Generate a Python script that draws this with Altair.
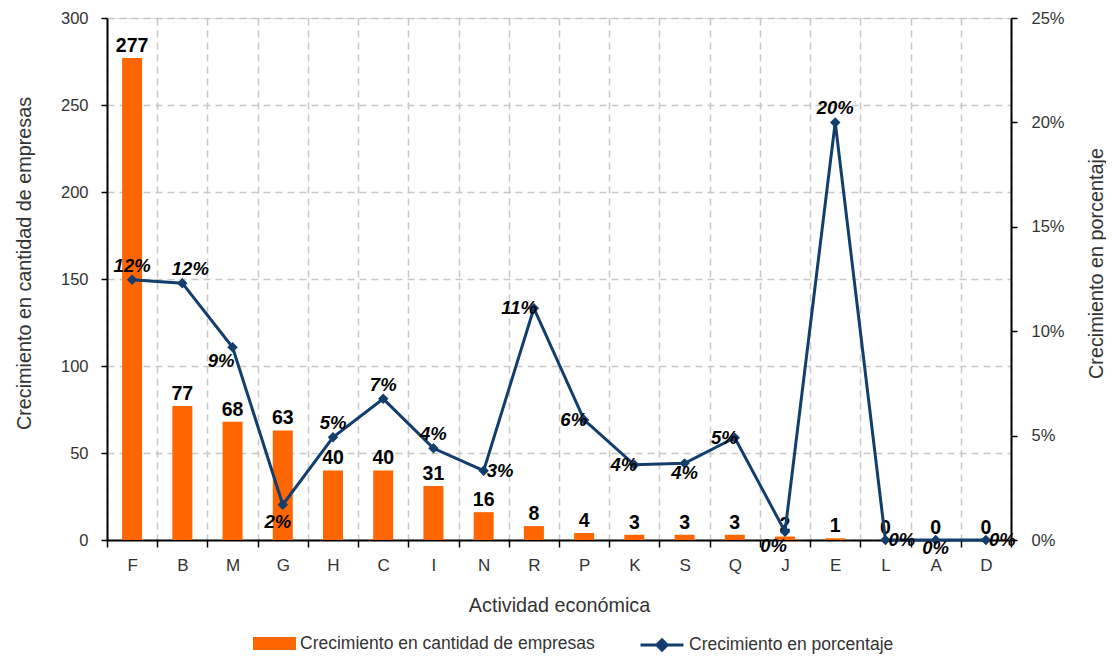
import altair as alt
import pandas as pd

# ---- data ----
categories = ["F", "B", "M", "G", "H", "C", "I", "N", "R", "P", "K", "S", "Q", "J", "E", "L", "A", "D"]
crecimiento_empresas = [277, 77, 68, 63, 40, 40, 31, 16, 8, 4, 3, 3, 3, 2, 1, 0, 0, 0]
crecimiento_pct = [0.1246, 0.123, 0.0923, 0.0169, 0.0492, 0.0676, 0.0439, 0.0332, 0.111,
                   0.0575, 0.036, 0.0367, 0.049, 0.004, 0.200, 0.0, 0.0, 0.0]
serie_barras = "Crecimiento en cantidad de empresas"
serie_linea = "Crecimiento en porcentaje"

# label placement groups (style)
lab_above = ["F", "H", "C", "I", "E"]
lab_above_right = ["B"]
lab_below = ["S"]
lab_below_near = ["A"]
lab_below_far = ["G"]
lab_left = ["R", "P", "K", "Q"]
lab_leftlow = ["M", "J"]
lab_right = ["N", "L", "D"]

FONT = "Liberation Sans, Arial, sans-serif"
ORANGE = "#FF6600"
NAVY = "#123E6E"
GRID = "#C8C8C8"
TXT = "#333333"

df = pd.DataFrame({
    "cat": categories,
    "n": crecimiento_empresas,
    "pct": crecimiento_pct,
    "s1": serie_barras,
    "s2": serie_linea,
})

x_main = alt.X(
    "cat:N", sort=categories,
    scale=alt.Scale(paddingInner=0, paddingOuter=0),
    axis=alt.Axis(
        title="Actividad económica", labelAngle=0, tickBand="extent",
        grid=True, gridDash=[7, 5], gridColor=GRID, gridWidth=1.5,
        ticks=True, tickSize=7, tickColor="black", tickWidth=1.5,
        domainColor="black", domainWidth=2,
        labelFont=FONT, labelFontSize=17, labelColor=TXT, labelPadding=10,
        titleFont=FONT, titleFontSize=19.8, titleFontWeight="normal", titleColor=TXT, titlePadding=22,
    ),
)
x_plain = alt.X("cat:N", sort=categories)

y_left = alt.Y(
    "n:Q", scale=alt.Scale(domain=[0, 300], nice=False),
    axis=alt.Axis(
        title=serie_barras, values=[0, 50, 100, 150, 200, 250, 300],
        grid=True, gridDash=[7, 5], gridColor=GRID, gridWidth=1.5,
        tickSize=6, tickColor="black", tickWidth=1.5,
        domainColor="black", domainWidth=2,
        labelFont=FONT, labelFontSize=16.5, labelColor=TXT, labelPadding=13,
        titleFont=FONT, titleFontSize=19.8, titleFontWeight="normal", titleColor=TXT,
        titlePadding=26, titleY=245,
    ),
)
y_right = alt.Y(
    "pct:Q", scale=alt.Scale(domain=[0, 0.25], nice=False),
    axis=alt.Axis(
        orient="right", title=serie_linea, format=".0%",
        values=[0, 0.05, 0.10, 0.15, 0.20, 0.25], grid=False,
        tickSize=6, tickColor="black", tickWidth=1.5,
        domainColor="black", domainWidth=2,
        labelFont=FONT, labelFontSize=16.5, labelColor=TXT, labelPadding=14,
        titleFont=FONT, titleFontSize=19.8, titleFontWeight="normal", titleColor=TXT,
        titlePadding=42, titleAngle=270, titleY=245,
    ),
)
y_right_plain = alt.Y("pct:Q")

base = alt.Chart(df)

bars = base.mark_bar(size=20).encode(
    x=x_main, y=y_left,
    color=alt.Color("s1:N", scale=alt.Scale(range=[ORANGE]), legend=alt.Legend(
        title=None, orient="none", legendX=146, legendY=604,
        symbolType="M-1,-0.3H1V0.3H-1Z", symbolSize=1849, symbolStrokeWidth=0,
        symbolOpacity=1, labelFont=FONT, labelFontSize=17.5, labelColor=TXT, labelOffset=4,
        labelLimit=500,
    )),
)
bar_text = base.mark_text(baseline="bottom", dy=-2, font=FONT, fontSize=19.5,
                          fontWeight="bold", color="black").encode(
    x=x_plain, y=alt.Y("n:Q"), text="n:Q")

left = alt.layer(bars, bar_text)

line = base.mark_line(strokeWidth=3).encode(
    x=x_plain, y=y_right,
    stroke=alt.Stroke("s2:N", scale=alt.Scale(range=[NAVY]), legend=alt.Legend(
        title=None, orient="none", legendX=532, legendY=604,
        symbolType="M-1,0H1M0,-0.24L0.24,0L0,0.24L-0.24,0Z", symbolSize=1849,
        symbolStrokeWidth=3, symbolFillColor=NAVY, symbolStrokeColor=NAVY,
        labelFont=FONT, labelFontSize=17.5, labelColor=TXT, labelOffset=4,
        labelLimit=500,
    )),
)
points = base.mark_point(shape="diamond", filled=True, size=110, color=NAVY, opacity=1).encode(
    x=x_plain, y=y_right_plain)


def pct_labels(group, **kw):
    return base.transform_filter(
        alt.FieldOneOfPredicate(field="cat", oneOf=group)
    ).mark_text(font=FONT, fontSize=18.5, fontWeight="bold", fontStyle="italic",
                color="black", **kw).encode(
        x=x_plain, y=y_right_plain, text=alt.Text("pct:Q", format=".0%"))


lbl_above = pct_labels(lab_above, align="center", baseline="bottom", dy=-4)
lbl_above_right = pct_labels(lab_above_right, align="center", baseline="bottom", dy=-4, dx=8)
lbl_below = pct_labels(lab_below, align="center", baseline="top", dy=1)
lbl_below_near = pct_labels(lab_below_near, align="center", baseline="top", dy=-1)
lbl_below_far = pct_labels(lab_below_far, align="center", baseline="top", dy=8, dx=-5)
lbl_left = pct_labels(lab_left, align="right", baseline="middle", dx=3)
lbl_leftlow = pct_labels(lab_leftlow, align="right", baseline="middle", dx=2, dy=14)
lbl_right = pct_labels(lab_right, align="left", baseline="middle", dx=3)

right = alt.layer(line, points, lbl_above, lbl_above_right, lbl_below, lbl_below_near,
                  lbl_below_far, lbl_left, lbl_leftlow, lbl_right)

chart = alt.layer(left, right).resolve_scale(y="independent").properties(
    width=904, height=522,
    padding={"left": 6, "top": 2, "right": 0, "bottom": 5},
).configure_view(stroke=None).configure(background="white")

chart.save("out.html", embed_options={"renderer": "svg", "actions": False})
